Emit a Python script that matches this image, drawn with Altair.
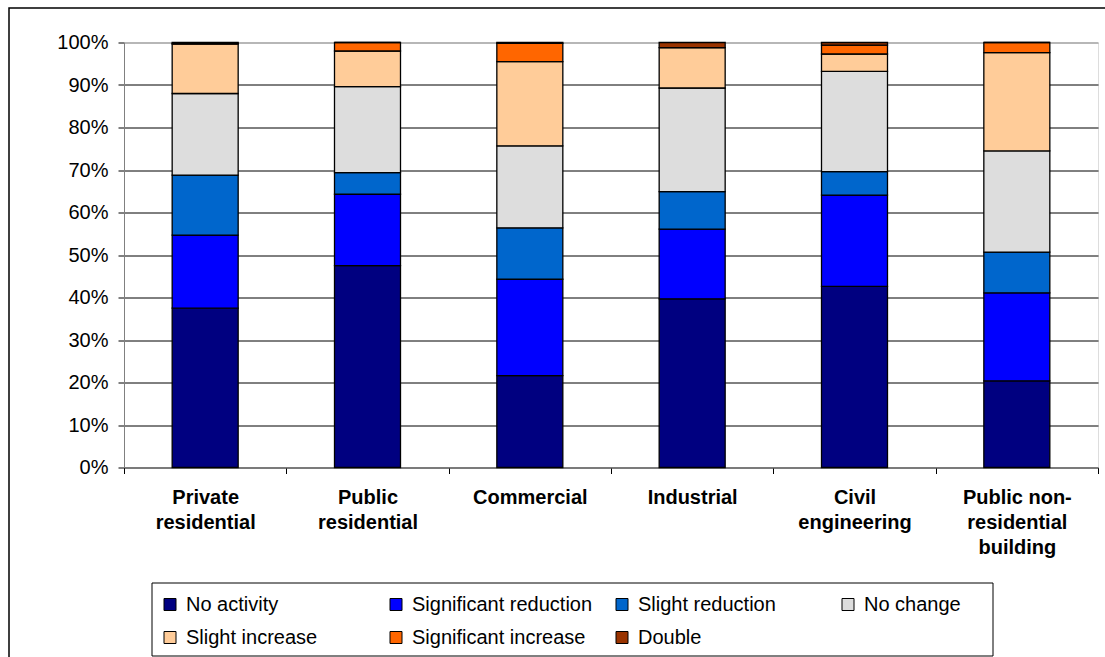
import altair as alt
import pandas as pd

categories = ["Private residential", "Public residential", "Commercial",
              "Industrial", "Civil engineering", "Public non-residential building"]
label_lines = [["Private", "residential"], ["Public", "residential"], ["Commercial"],
               ["Industrial"], ["Civil", "engineering"], ["Public non-", "residential", "building"]]
series = ["No activity", "Significant reduction", "Slight reduction", "No change",
          "Slight increase", "Significant increase", "Double"]
colors = ["#000080", "#0000FF", "#0066CC", "#DDDDDD", "#FFCC99", "#FF6600", "#993300"]

no_activity = [37.5, 47.5, 21.6, 39.7, 42.6, 20.4]
significant_reduction = [17.2, 16.8, 22.7, 16.4, 21.5, 20.7]
slight_reduction = [14.1, 5.1, 12.1, 8.8, 5.5, 9.6]
no_change = [19.2, 20.2, 19.3, 24.4, 23.6, 23.8]
slight_increase = [11.6, 8.4, 19.8, 9.5, 4.1, 23.1]
significant_increase = [0.2, 2.0, 4.3, 0.0, 2.1, 2.4]
double = [0.2, 0.0, 0.2, 1.2, 0.6, 0.0]
y_ticks = [0, 0.1, 0.2, 0.3, 0.4, 0.5, 0.6, 0.7, 0.8, 0.9, 1.0]

values_by_series = [no_activity, significant_reduction, slight_reduction, no_change,
                    slight_increase, significant_increase, double]
rows = []
for si, (name, vals) in enumerate(zip(series, values_by_series)):
    for cat, v in zip(categories, vals):
        rows.append({"category": cat, "series": name, "value": v, "idx": si})
df = pd.DataFrame(rows)

# multi-line x labels
expr = ""
for cat, lines in zip(categories, label_lines):
    arr = "[" + ",".join("'" + l + "'" for l in lines) + "]"
    expr += f"datum.label === '{cat}' ? {arr} : "
expr += "datum.label"

FONT = "Liberation Sans"
W, H = 974, 425
PAD_L, PAD_T = 124, 42.5

bars = alt.Chart(df).mark_bar(size=66, stroke="black", strokeWidth=1.3).encode(
    x=alt.X("category:N", sort=categories,
            scale=alt.Scale(paddingInner=0, paddingOuter=0),
            axis=alt.Axis(title=None, labelAngle=0, labelExpr=expr, tickBand="extent",
                          labelFontWeight="bold", labelFontSize=20, labelLineHeight=25,
                          labelPadding=14, tickSize=6, tickColor="black",
                          domainColor="#808080", labelColor="black", grid=False,
                          labelFont=FONT)),
    y=alt.Y("value:Q", stack="normalize", scale=alt.Scale(domain=[0, 1]),
            axis=alt.Axis(title=None, values=y_ticks, format=".0%", grid=True,
                          gridColor={"condition": {"test": "datum.value === 1", "value": "#808080"},
                                     "value": "black"},
                          gridWidth=1, tickSize=6, tickColor="black", domainColor="#808080",
                          labelFontSize=20, labelPadding=10, labelColor="black",
                          labelFont=FONT)),
    fill=alt.Fill("series:N", scale=alt.Scale(domain=series, range=colors),
                  legend=alt.Legend(title=None, orient="none", legendX=36, legendY=552,
                                    direction="horizontal",
                                    columns=4, gridAlign="all", columnPadding=19,
                                    rowPadding=13, symbolType="square", symbolSize=144,
                                    symbolStrokeColor="black", symbolStrokeWidth=1,
                                    labelFontSize=20, labelFont=FONT, labelColor="black",
                                    labelLimit=400, labelOffset=6, padding=0)),
    order=alt.Order("idx:Q", sort="ascending"),
)

one = pd.DataFrame({"k": [0]})
frame = alt.Chart(one).mark_rect(filled=False, stroke="black", strokeWidth=1.5).encode(
    x=alt.value(9 - PAD_L), x2=alt.value(1115 - PAD_L),
    y=alt.value(8 - PAD_T), y2=alt.value(700 - PAD_T))
legend_box = alt.Chart(one).mark_rect(filled=False, stroke="black", strokeWidth=1).encode(
    x=alt.value(152 - PAD_L), x2=alt.value(993 - PAD_L),
    y=alt.value(583 - PAD_T), y2=alt.value(656 - PAD_T))

chart = alt.layer(frame, legend_box, bars).properties(
    width=W, height=H,
    autosize=alt.AutoSizeParams(type="none"),
    padding={"left": PAD_L, "top": PAD_T, "right": 1105 - PAD_L - W, "bottom": 657 - PAD_T - H},
).configure_view(strokeWidth=0).configure(font=FONT)

chart.save("out.html", embed_options={"renderer": "svg", "actions": False})
